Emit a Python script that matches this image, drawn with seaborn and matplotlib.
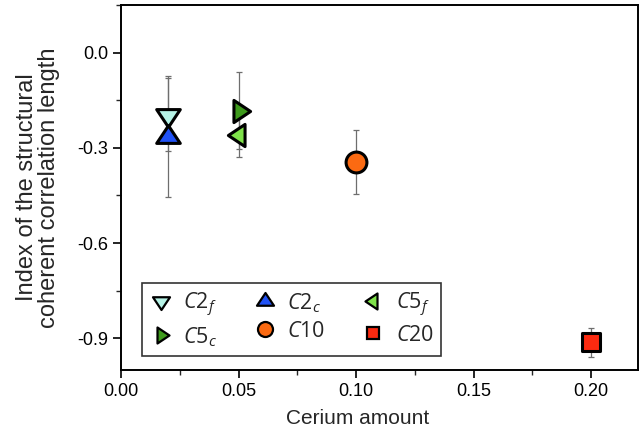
import numpy as np
import matplotlib
matplotlib.use("Agg")
import matplotlib.pyplot as plt
import seaborn as sns
from matplotlib.path import Path
from matplotlib.lines import Line2D
from matplotlib.ticker import MultipleLocator

# ---- data ----
labels = ["C2f", "C2c", "C5f", "C5c", "C10", "C20"]
legend_text = [r"$\mathit{C2}_{\mathit{f}}$", r"$\mathit{C2}_{\mathit{c}}$", r"$\mathit{C5}_{\mathit{f}}$",
               r"$\mathit{C5}_{\mathit{c}}$", r"$\mathit{C10}$", r"$\mathit{C20}$"]
cerium = [0.02, 0.02, 0.05, 0.05, 0.10, 0.20]
index_val = [-0.195, -0.265, -0.258, -0.183, -0.344, -0.9125]
index_err = [0.115, 0.19, 0.072, 0.122, 0.101, 0.046]

# ---- styles ----
def tri(direction):
    v = {"up": [(0, 1), (-1, -0.5), (1, -0.5)],
         "down": [(0, -1), (-1, 0.5), (1, 0.5)],
         "right": [(1, 0), (-0.5, 1), (-0.5, -1)],
         "left": [(-1, 0), (0.5, 1), (0.5, -1)]}[direction]
    return Path(v + [v[0]], [Path.MOVETO, Path.LINETO, Path.LINETO, Path.CLOSEPOLY])

markers = [tri("down"), tri("up"), tri("left"), tri("right"), "o", "s"]
colors = ["#b6f3e6", "#2152f5", "#7fe24a", "#3e9a1c", "#fb6a12", "#fb2a10"]
sizes = [17, 17, 16, 16, 15, 12.5]

sns.set_style("ticks")
plt.rcParams["font.family"] = ["Liberation Sans", "DejaVu Sans"]
plt.rcParams["mathtext.fontset"] = "custom"
plt.rcParams["mathtext.it"] = "Open Sans:italic"
plt.rcParams["mathtext.rm"] = "Open Sans"

fig = plt.figure(figsize=(6.4, 4.4), dpi=100)
ax = fig.add_axes([0.1895, 0.159, 0.8075, 0.8296])

for i in range(len(labels)):
    ax.errorbar([cerium[i]], [index_val[i]], yerr=[index_err[i]], fmt="none",
                ecolor="#6e6e6e", elinewidth=0.9, capsize=2.3, capthick=0.9, zorder=2)

for i in range(len(labels)):
    sns.scatterplot(x=[cerium[i]], y=[index_val[i]], marker=markers[i], s=sizes[i] ** 2,
                    color=colors[i], edgecolor="black", linewidth=2.2, ax=ax, zorder=3 + i,
                    legend=False)

ax.set_xlim(0, 0.22)
ax.set_ylim(-1.0, 0.15)
ax.xaxis.set_major_locator(MultipleLocator(0.05))
ax.xaxis.set_minor_locator(MultipleLocator(0.025))
ax.yaxis.set_major_locator(MultipleLocator(0.3))
ax.yaxis.set_minor_locator(MultipleLocator(0.15))
ax.set_xticks([0.0, 0.05, 0.10, 0.15, 0.20])
ax.set_xticklabels(["0.00", "0.05", "0.10", "0.15", "0.20"])
ax.set_yticks([0.0, -0.3, -0.6, -0.9])
ax.set_yticklabels(["0.0", "-0.3", "-0.6", "-0.9"])
ax.tick_params(axis="both", which="major", direction="out", length=6, width=1.2,
               labelsize=13, colors="black")
ax.tick_params(axis="both", which="minor", direction="out", length=3.5, width=1.0)
for sp in ax.spines.values():
    sp.set_linewidth(1.4)
    sp.set_color("black")

ax.set_xlabel("Cerium amount", fontsize=15)
ax.xaxis.set_label_coords(0.457, -0.108)
ax.set_ylabel("Index of the structural\ncoherent correlation length", fontsize=17,
              linespacing=1.0)
ax.yaxis.set_label_coords(-0.118, 0.5)

order = [0, 3, 1, 4, 2, 5]
handles = [Line2D([], [], linestyle="none", marker=markers[i], markersize=sizes[i] * 0.72,
                  markerfacecolor=colors[i], markeredgecolor="black", markeredgewidth=1.6)
           for i in order]
leg = ax.legend(handles, [legend_text[i] for i in order], ncol=3, loc="lower left",
                bbox_to_anchor=(0.041, 0.038), borderaxespad=0, fontsize=15.5, frameon=True,
                fancybox=False, edgecolor="black", handlelength=1.0, handletextpad=0.55,
                columnspacing=1.7, labelspacing=0.3, borderpad=0.35)
leg.get_frame().set_linewidth(1.2)

fig.savefig("out.png", dpi=100)
